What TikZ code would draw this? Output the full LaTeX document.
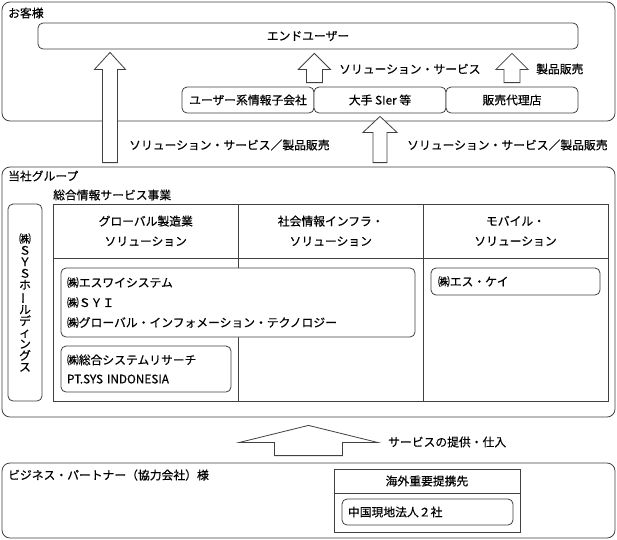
\documentclass[tikz,border=0pt]{standalone}
\usepackage{fontspec}
\setmainfont{Noto Sans CJK JP}[FakeBold=0.4]
\usetikzlibrary{calc}
\newcommand\blockarrow[5]{%
  \draw[arrowbox] let \p1=(#1), \p2=(#2) in
    (\x1-#3,\y1) -- (\x1-#3,\y2-#5) -- (\x1-#4,\y2-#5) -- (\x2,\y2) --
    (\x1+#4,\y2-#5) -- (\x1+#3,\y2-#5) -- (\x1+#3,\y1) -- cycle;}
\begin{document}
\begin{tikzpicture}[x=1pt,y=-1pt,
  ln/.style={draw=black!75,line width=0.8pt},
  frame/.style={ln,rounded corners=8pt,fill=white,inner sep=0pt},
  rbox/.style={ln,rounded corners=5pt,fill=white,inner sep=0pt},
  cell/.style={ln,inner sep=0pt},
  lbl/.style={inner sep=0pt,anchor=west},
  arrowbox/.style={ln,fill=white,line join=miter},
  every node/.style={font=\fontsize{11.8}{20}\selectfont}]
\useasboundingbox (0,0) rectangle (617,539);
% ---------- customers ----------
\node[frame,minimum width=613pt,minimum height=119pt] (customer) at (308.5,61.5) {};
\node[lbl] (customerlbl) at (8,13) {お客様};
\node[rbox,minimum width=540pt,minimum height=26pt] (enduser) at (308,36) {エンドユーザー};
\node[rbox,minimum width=132pt,minimum height=26pt] (subsid) at (248,100) {ユーザー系情報子会社};
\node[rbox,minimum width=132pt,minimum height=26pt] (sier) at (380,100) {大手 SIer 等};
\node[rbox,minimum width=132pt,minimum height=26pt] (dealer) at (512,100) {販売代理店};
\node[lbl] (solsvc) at (339,69) {ソリューション・サービス};
\node[lbl] (prodsale) at (536,69) {製品販売};
% ---------- group ----------
\node[frame,minimum width=613pt,minimum height=250pt] (group) at (308.5,292) {};
\node[lbl] (grouplbl) at (8,176) {当社グループ};
\node[lbl] (bizlbl) at (53,195) {総合情報サービス事業};
\node[rbox,minimum width=34pt,minimum height=197pt,align=center,
  font=\fontsize{11.8}{11.5}\selectfont] (hd) at (25,302.5)
  {㈱\\Ｓ\\Ｙ\\Ｓ\\ホ\\\rotatebox[origin=c]{90}{ー}\\ル\\デ\\ィ\\ン\\グ\\ス};
\node[cell,minimum width=185.5pt,minimum height=54pt,align=center] (h1) at (145.75,231) {グローバル製造業\\ソリューション};
\node[cell,minimum width=184.5pt,minimum height=54pt,align=center] (h2) at (330.75,231) {社会情報インフラ・\\ソリューション};
\node[cell,minimum width=185pt,minimum height=54pt,align=center] (h3) at (515.5,231) {モバイル・\\ソリューション};
\node[cell,minimum width=185.5pt,minimum height=143pt] (c1) at (145.75,329.5) {};
\node[cell,minimum width=184.5pt,minimum height=143pt] (c2) at (330.75,329.5) {};
\node[cell,minimum width=185pt,minimum height=143pt] (c3) at (515.5,329.5) {};
\node[rbox,minimum width=354pt,minimum height=69pt,text width=342pt,align=left] (sy) at (238,302.5)
  {㈱エスワイシステム\\㈱ＳＹＩ\\㈱グローバル・インフォメーション・テクノロジー};
\node[rbox,minimum width=170pt,minimum height=46pt,text width=158pt,align=left,
  font=\fontsize{11.8}{19}\selectfont] (sr) at (146,369)
  {㈱総合システムリサーチ\\PT.SYS INDONESIA};
\node[rbox,minimum width=169pt,minimum height=27pt,text width=155pt,align=left] (sk) at (515.5,281.5) {㈱エス・ケイ};
% ---------- partners ----------
\node[frame,minimum width=613pt,minimum height=75pt] (partner) at (308.5,500.5) {};
\node[lbl] (partnerlbl) at (8,475) {ビジネス・パートナー（協力会社）様};
\node[cell,minimum width=186pt,minimum height=24pt] (ostitle) at (427,481) {海外重要提携先};
\node[cell,minimum width=186pt,minimum height=39pt] (osbody) at (427,512.5) {};
\node[rbox,minimum width=171pt,minimum height=26pt,text width=159pt,align=left] (cn) at (427.5,512) {中国現地法人２社};
\node[lbl] (svclbl) at (388,442) {サービスの提供・仕入};
% ---------- arrows ----------
\coordinate (a1x) at (110,0);
\coordinate (a1tail) at ($(group.north -| a1x)+(0,-4)$);
\coordinate (a1tip) at ($(enduser.south -| a1x)+(0,3)$);
\blockarrow{a1tail}{a1tip}{7.5pt}{15.5pt}{17pt}
\node[lbl] (lbl1) at (129,145) {ソリューション・サービス／製品販売};
\coordinate (a2tail) at ($(subsid.north east)+(0,-4)$);
\coordinate (a2tip) at ($(enduser.south -| subsid.north east)+(0,4)$);
\blockarrow{a2tail}{a2tip}{8pt}{16pt}{16pt}
\coordinate (a3tail) at ($(dealer.north)+(0,-4)$);
\coordinate (a3tip) at ($(enduser.south -| dealer.north)+(0,4)$);
\blockarrow{a3tail}{a3tip}{8pt}{16pt}{16pt}
\coordinate (a4tail) at ($(group.north -| sier.south)+(0,-4)$);
\coordinate (a4tip) at ($(sier.south)+(0,3)$);
\blockarrow{a4tail}{a4tip}{7pt}{17pt}{16pt}
\node[lbl] (lbl2) at (407,145) {ソリューション・サービス／製品販売};
\coordinate (a5tail) at ($(partner.north)+(0,-7)$);
\coordinate (a5tip) at ($(group.south)+(0,8)$);
\blockarrow{a5tail}{a5tip}{34pt}{69pt}{17pt}
\end{tikzpicture}
\end{document}
